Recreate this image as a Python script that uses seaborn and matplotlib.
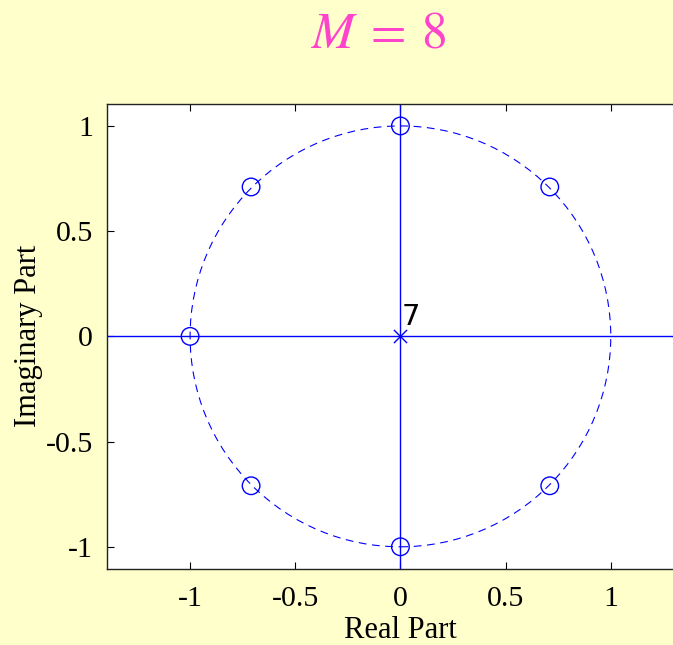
import seaborn as sns
import matplotlib.pyplot as plt
from matplotlib.patches import Circle

# zeros of the M = 8 moving-average filter
zero_re = [0.71, 0.0, -0.71, -1.0, -0.71, 0.0, 0.71]
zero_im = [0.71, 1.0, 0.71, 0.0, -0.71, -1.0, -0.71]
pole_re = [0.0]
pole_im = [0.0]
pole_order = "7"

ticks = [-1, -0.5, 0, 0.5, 1]
tick_labels = ["-1", "-0.5", "0", "0.5", "1"]

sns.set_theme(style="ticks", rc={
    "figure.facecolor": "#ffffcc",
    "axes.facecolor": "white",
    "axes.edgecolor": "#222222",
    "axes.linewidth": 1.0,
    "axes.labelcolor": "black",
    "text.color": "black",
    "xtick.direction": "in",
    "ytick.direction": "in",
    "xtick.top": True,
    "ytick.right": True,
    "axes.unicode_minus": False,
    "mathtext.fontset": "stix",
})
plt.rcParams["font.family"] = ["Liberation Serif", "DejaVu Serif"]

fig = plt.figure(figsize=(6.73, 6.45), dpi=100)
ax = fig.add_axes([0.159, 0.118, 0.872, 0.721])

ax.axhline(0, color="blue", lw=1.0, zorder=1)
ax.axvline(0, color="blue", lw=1.0, zorder=1)
ax.add_patch(Circle((0, 0), 1, fill=False, ec="blue", lw=0.8,
                    ls=(0, (7, 5)), zorder=1))

sns.scatterplot(x=zero_re, y=zero_im, marker="o", s=160, facecolor="none",
                edgecolor="blue", linewidth=1.0, ax=ax, zorder=3)
sns.scatterplot(x=pole_re, y=pole_im, marker="x", s=90, color="blue",
                linewidth=1.0, ax=ax, zorder=3)
ax.text(0.005, 0.025, pole_order, fontsize=21, color="black",
        family="DejaVu Sans", ha="left", va="bottom")

ax.set_xlim(-1.395, 1.395)
ax.set_ylim(-1.105, 1.105)
ax.set_xticks(ticks)
ax.set_xticklabels(tick_labels)
ax.set_yticks(ticks)
ax.set_yticklabels(tick_labels)
ax.tick_params(labelsize=21.5, length=5, width=0.8, colors="black")
ax.tick_params(axis="x", pad=12)
ax.tick_params(axis="y", pad=10)
ax.set_xlabel("Real Part", fontsize=22, labelpad=3)
ax.set_ylabel("Imaginary Part", fontsize=22, labelpad=2)

fig.text(0.562, 0.945, r"$M\:=\:8$", color="#ff44cc", fontsize=37,
         ha="center", va="center")

fig.savefig("out.png", dpi=100, facecolor=fig.get_facecolor())
